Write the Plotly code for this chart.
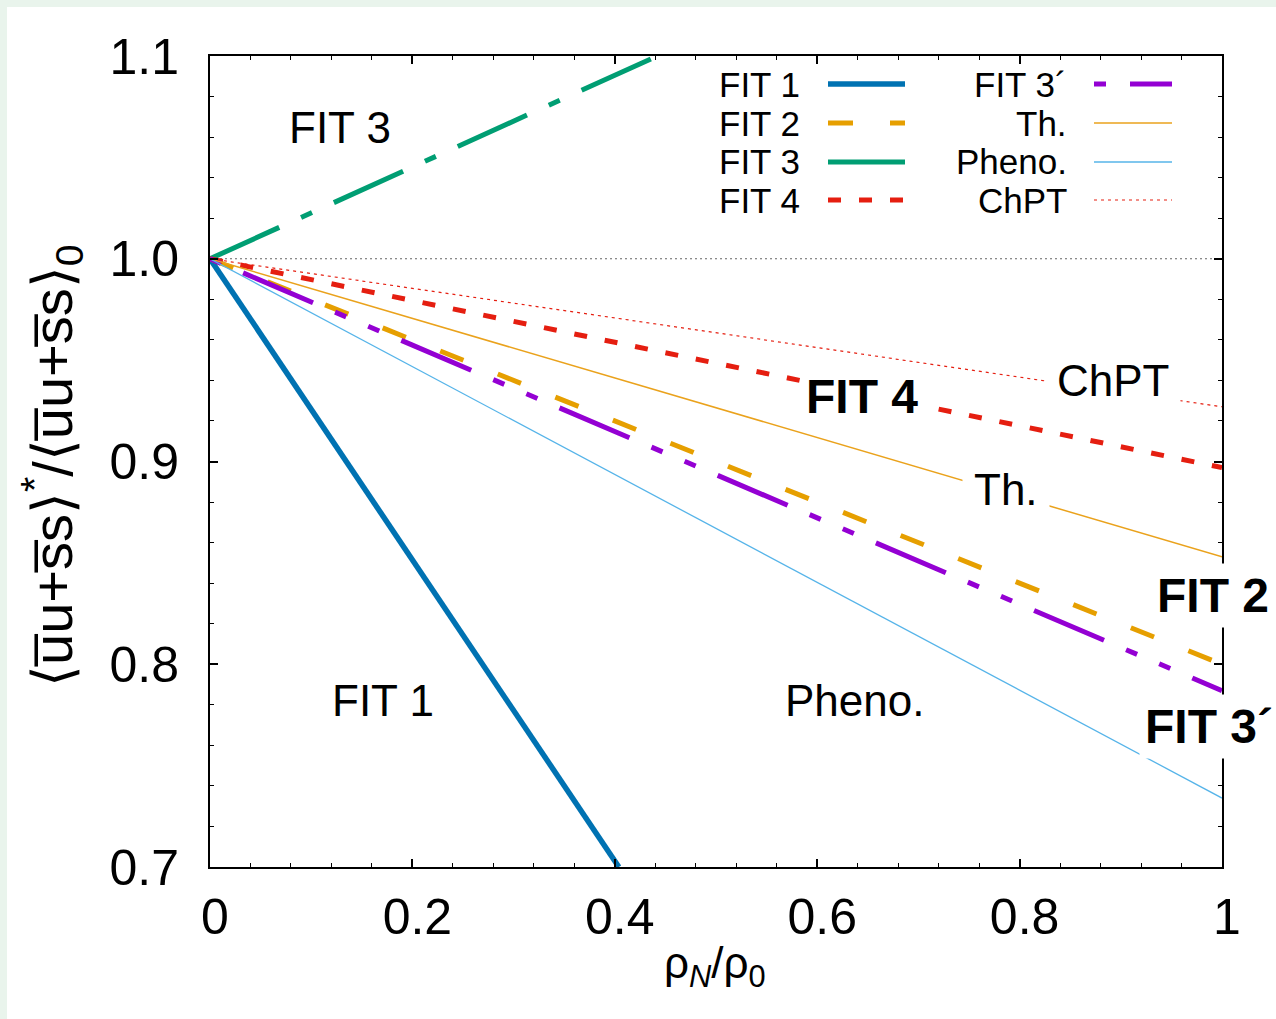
import plotly.graph_objects as go

# ---------------- data ----------------
rho = [0.0, 1.0]                     # rho_N / rho_0 end points
fit1_x = [0.0, 0.404]; fit1_y = [1.0, 0.700]
fit2_y = [1.0, 0.800]
fit3_x = [0.0, 0.442]; fit3_y = [1.0, 1.100]
fit4_y = [1.0, 0.897]
fit3p_y = [1.0, 0.787]
th_y = [1.0, 0.853]
pheno_y = [1.0, 0.734]
chpt_y = [1.0, 0.927]
ref_y = [1.0, 1.0]

x_tickvals = [0, 0.2, 0.4, 0.6, 0.8, 1.0]
x_ticktext = ["0", "0.2", "0.4", "0.6", "0.8", "1"]
y_tickvals = [0.7, 0.8, 0.9, 1.0, 1.1]
y_ticktext = ["0.7", "0.8", "0.9", "1.0", "1.1"]

legend_left = ["FIT 1", "FIT 2", "FIT 3", "FIT 4"]
legend_right = ["FIT 3´", "Th.", "Pheno.", "ChPT"]

# ---------------- styles ----------------
FONT = "Liberation Sans, Arial, Helvetica, sans-serif"
C_BLUE, C_ORANGE, C_GREEN, C_RED = "#0072b2", "#e69f00", "#009e73", "#e51e10"
C_PURPLE, C_TH, C_SKY = "#9400d3", "#eaa21c", "#56b4e9"

styles = {
    "FIT 1": dict(color=C_BLUE, width=5.5, dash="solid"),
    "FIT 2": dict(color=C_ORANGE, width=5, dash="25px,37px"),
    "FIT 3": dict(color=C_GREEN, width=5, dash="76px,24px,12px,24px"),
    "FIT 4": dict(color=C_RED, width=5, dash="13px,18px"),
    "FIT 3´": dict(color=C_PURPLE, width=5, dash="12px,24px,76px,24px,12px,24px"),
    "Th.": dict(color=C_TH, width=1.5, dash="solid"),
    "Pheno.": dict(color=C_SKY, width=1.3, dash="solid"),
    "ChPT": dict(color=C_RED, width=1.2, dash="3px,4px"),
}
legend_styles = dict(styles)
legend_styles["FIT 3"] = dict(color=C_GREEN, width=5, dash="solid")

W, H = 1276, 1019
L, R, T, B = 210, 54, 56, 152
PW, PH = W - L - R, H - T - B


def px2paper_x(px):
    return (px - L) / PW


def px2paper_y(py):
    return (H - B - py) / PH


fig = go.Figure()

fig.add_trace(go.Scatter(x=rho, y=ref_y, mode="lines", showlegend=False,
                         line=dict(color="#666666", width=1.2, dash="2px,3px")))
series = [
    ("FIT 1", fit1_x, fit1_y),
    ("FIT 2", rho, fit2_y),
    ("FIT 3", fit3_x, fit3_y),
    ("FIT 4", rho, fit4_y),
    ("FIT 3´", rho, fit3p_y),
    ("Th.", rho, th_y),
    ("Pheno.", rho, pheno_y),
    ("ChPT", rho, chpt_y),
]
for name, xs, ys in series:
    fig.add_trace(go.Scatter(x=xs, y=ys, mode="lines", name=name,
                             showlegend=False, line=styles[name]))

shapes = []
# page background: light green strips on top/left, white elsewhere
shapes.append(dict(type="rect", xref="paper", yref="paper", layer="below",
                   x0=px2paper_x(7), x1=px2paper_x(W + 20),
                   y0=px2paper_y(H + 20), y1=px2paper_y(7),
                   fillcolor="white", line=dict(width=0)))

annotations = []
# manual legend (text then sample, two columns)
rows_py = [84, 123, 162, 200]
for names, text_right, s0, s1 in [(legend_left, 802, 828, 905),
                                  (legend_right, 1069, 1094, 1172)]:
    for name, py in zip(names, rows_py):
        annotations.append(dict(text=name, xref="paper", yref="paper",
                                x=px2paper_x(text_right), y=px2paper_y(py),
                                xanchor="right", yanchor="middle", showarrow=False,
                                font=dict(family=FONT, size=35, color="black")))
        st = legend_styles[name]
        shapes.append(dict(type="line", xref="paper", yref="paper",
                           x0=px2paper_x(s0), x1=px2paper_x(s1),
                           y0=px2paper_y(py), y1=px2paper_y(py),
                           line=dict(color=st["color"], width=st["width"], dash=st["dash"])))

# in-plot labels
plain = [("FIT 3", 0.128, 1.0645), ("FIT 1", 0.171, 0.782), ("Pheno.", 0.637, 0.782)]
for txt, x, y in plain:
    annotations.append(dict(text=txt, x=x, y=y, xref="x", yref="y", showarrow=False,
                            xanchor="center", yanchor="middle",
                            font=dict(family=FONT, size=44, color="black")))
boxed = [("ChPT", 0.892, 0.940), ("Th.", 0.787, 0.886)]
for txt, x, y in boxed:
    annotations.append(dict(text=txt, x=x, y=y, xref="x", yref="y", showarrow=False,
                            xanchor="center", yanchor="middle", bgcolor="white",
                            borderpad=11,
                            font=dict(family=FONT, size=44, color="black")))
bold = [("FIT 4", 0.644, 0.932, "center"), ("FIT 2", 0.930, 0.834, "left"),
        ("FIT 3´", 0.918, 0.7695, "left")]
for txt, x, y, xa in bold:
    annotations.append(dict(text="<b>" + txt + "</b>", x=x, y=y, xref="x", yref="y",
                            showarrow=False, xanchor=xa, yanchor="middle",
                            bgcolor="white", borderpad=5,
                            font=dict(family=FONT, size=48, color="black")))

# axis titles
annotations.append(dict(
    text="⟨u\u0305u+s\u0305s⟩<sup>*</sup>/⟨u\u0305u+s\u0305s⟩<sub>0</sub>",
    xref="paper", yref="paper", x=px2paper_x(52), y=px2paper_y(466),
    xanchor="center", yanchor="middle", textangle=-90, showarrow=False,
    font=dict(family=FONT, size=56, color="black")))
annotations.append(dict(
    text="ρ<sub><i>N</i></sub>/ρ<sub>0</sub>",
    xref="paper", yref="paper", x=px2paper_x(715), y=px2paper_y(966),
    xanchor="center", yanchor="middle", showarrow=False,
    font=dict(family=FONT, size=44, color="black")))

axis_common = dict(showline=True, linecolor="black", linewidth=2, mirror="allticks",
                   ticks="inside", ticklen=8, tickwidth=1.5, tickcolor="black",
                   showgrid=False, zeroline=False,
                   tickfont=dict(family=FONT, size=50, color="black"))

fig.update_layout(
    width=W, height=H, autosize=False,
    margin=dict(l=L, r=R, t=T, b=B, pad=0),
    paper_bgcolor="#e9f4ec", plot_bgcolor="white",
    showlegend=False,
    shapes=shapes, annotations=annotations,
    xaxis=dict(range=[0, 1], tickmode="array", tickvals=x_tickvals, ticktext=x_ticktext,
               ticklabelstandoff=5, ticklabelshift=5,
               minor=dict(dtick=0.04, tick0=0, ticks="inside", ticklen=4,
                          tickwidth=1.2, tickcolor="black", showgrid=False),
               **axis_common),
    yaxis=dict(range=[0.7, 1.1], tickmode="array", tickvals=y_tickvals, ticktext=y_ticktext,
               ticklabelstandoff=19,
               minor=dict(dtick=0.02, tick0=0.7, ticks="inside", ticklen=4,
                          tickwidth=1.2, tickcolor="black", showgrid=False),
               **axis_common),
)

fig.write_html("out.html")
